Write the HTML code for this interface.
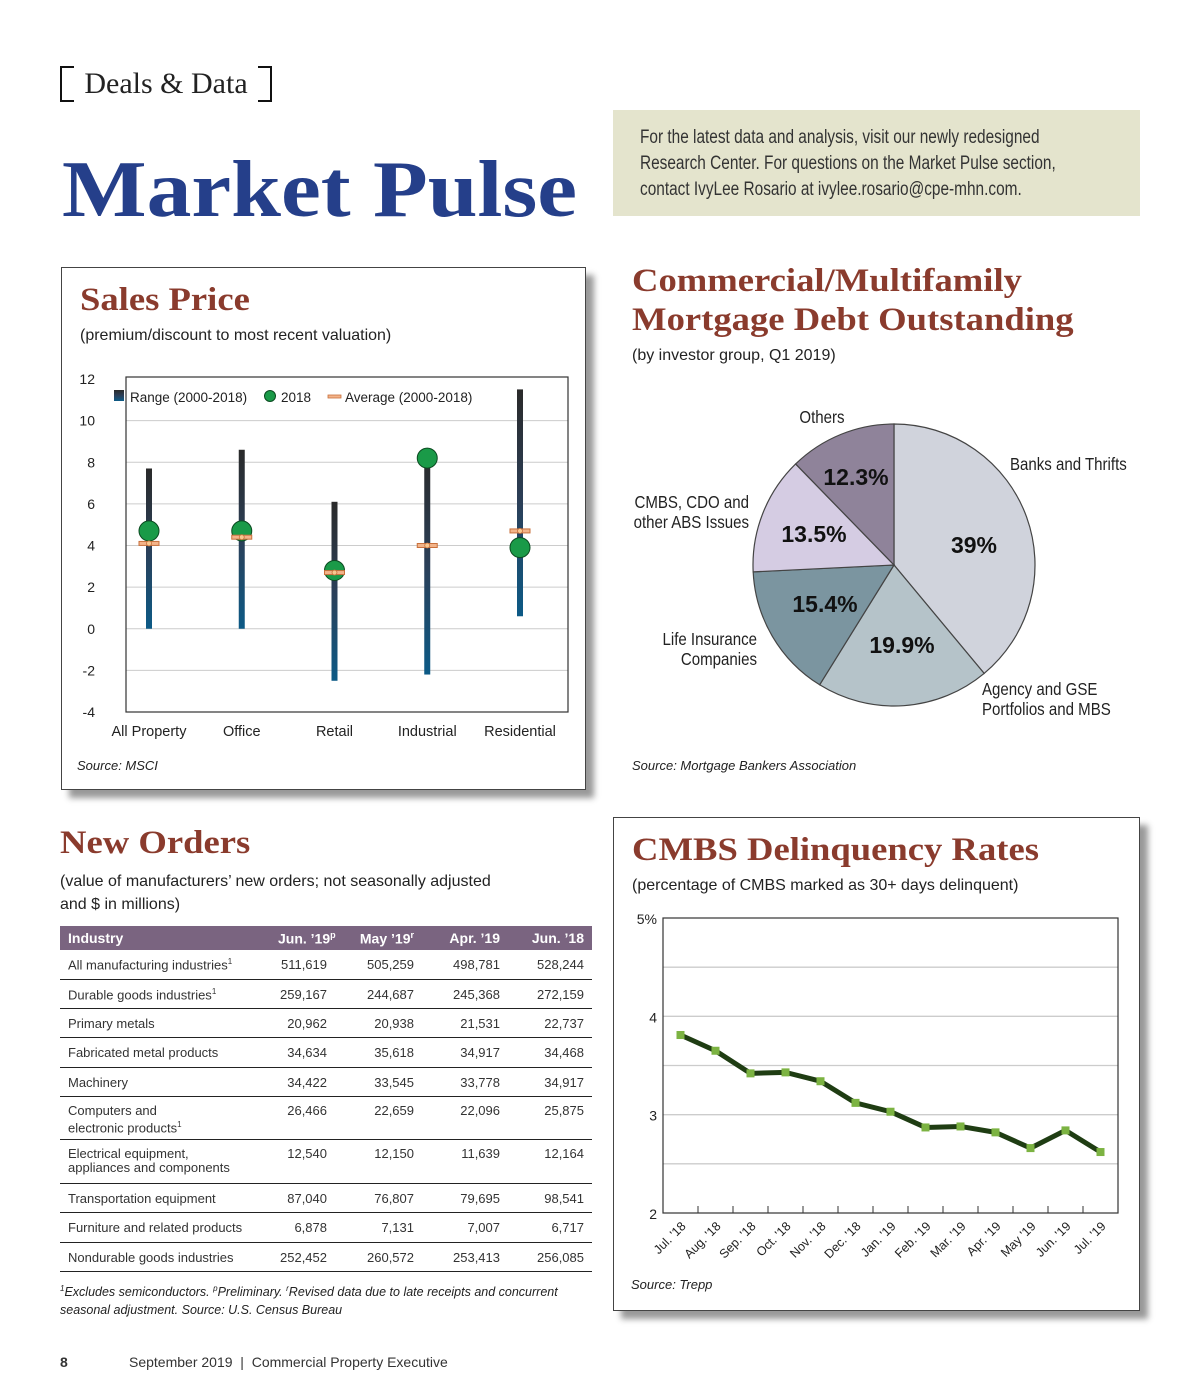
<!DOCTYPE html>
<html><head><meta charset="utf-8"><style>
body{margin:0;background:#fff;}
#page{position:relative;width:1200px;height:1400px;overflow:hidden;font-family:"Liberation Sans",sans-serif;color:#222;}
.abs{position:absolute;}
.head{font-family:"Liberation Serif",serif;font-weight:bold;color:#8a3b2d;transform:scaleX(1.11);transform-origin:left top;white-space:nowrap;}
.src{font-style:italic;font-size:13px;}
table{border-collapse:collapse;font-size:13px;color:#333;table-layout:fixed;}
td,th{padding:0 8px;vertical-align:top;overflow:visible;white-space:nowrap;}
th{background:#7a6480;color:#fff;text-align:right;height:24px;vertical-align:middle;font-size:14px;}
td{border-bottom:1.5px solid #222;text-align:right;padding-top:7px;}
td:first-child,th:first-child{text-align:left;}
tr.s{height:29.3px;} tr.d{height:43.5px;} tr.d td{line-height:14px;}
</style></head><body>
<div id="page">
<div class="abs" style="left:60px;top:66px;width:208px;height:36px;font-family:'Liberation Serif',serif;font-size:30px;line-height:36px;text-align:center;border-left:2px solid #111;border-right:2px solid #111;">Deals &amp; Data
<div class="abs" style="left:0;top:0;width:12px;border-top:2px solid #111"></div><div class="abs" style="left:0;bottom:0;width:12px;border-bottom:2px solid #111"></div><div class="abs" style="right:0;top:0;width:12px;border-top:2px solid #111"></div><div class="abs" style="right:0;bottom:0;width:12px;border-bottom:2px solid #111"></div></div>
<div class="abs" style="left:62px;top:142px;font-family:'Liberation Serif',serif;font-weight:bold;font-size:80px;color:#253f8a;line-height:96px;transform:scaleX(1.12);transform-origin:left top;white-space:nowrap;">Market Pulse</div>
<div class="abs" style="left:613px;top:110px;width:527px;height:106px;background:#e4e4cd;"></div>
<div class="abs" style="left:640px;top:125px;font-size:19px;line-height:26px;color:#333;white-space:nowrap;transform:scaleX(0.81);transform-origin:left top;">For the latest data and analysis, visit our newly redesigned<br>Research Center. For questions on the Market Pulse section,<br>contact IvyLee Rosario at ivylee.rosario@cpe-mhn.com.</div>

<!-- Sales price -->
<div class="abs" style="left:61px;top:267px;width:523px;height:521px;border:1.5px solid #444;box-shadow:8px 8px 6px #999;background:#fff;"></div>
<div class="abs head" style="left:80px;top:282px;font-size:33px;">Sales Price</div>
<div class="abs" style="left:80px;top:327px;font-size:16px;">(premium/discount to most recent valuation)</div>
<div class="abs src" style="left:77px;top:758px;">Source: MSCI</div>
<svg class="abs" id="sp" style="left:0;top:0" width="600" height="760">
<defs><linearGradient id="rg" x1="0" y1="0" x2="0" y2="1"><stop offset="0" stop-color="#2a2a2a"/><stop offset="0.5" stop-color="#2b3f58"/><stop offset="1" stop-color="#0c5a86"/></linearGradient></defs>
</svg>

<!-- Pie -->
<div class="abs head" style="left:632px;top:262px;font-size:33px;line-height:39px;">Commercial/Multifamily<br>Mortgage Debt Outstanding</div>
<div class="abs" style="left:632px;top:347px;font-size:16px;">(by investor group, Q1 2019)</div>
<svg class="abs" id="pie" style="left:600px;top:390px" width="600" height="340"></svg>
<div class="abs src" style="left:632px;top:758px;">Source: Mortgage Bankers Association</div>

<!-- New orders -->
<div class="abs head" style="left:60px;top:825px;font-size:33px;">New Orders</div>
<div class="abs" style="left:60px;top:870px;font-size:16px;line-height:23px;">(value of manufacturers’ new orders; not seasonally adjusted<br>and $ in millions)</div>
<table class="abs" style="left:60px;top:926px;width:532px;">
<colgroup><col style="width:210px"><col style="width:65px"><col style="width:87px"><col style="width:86px"><col style="width:84px"></colgroup>
<tr><th>Industry</th><th>Jun. ’19<sup style="font-size:9px">p</sup></th><th>May ’19<sup style="font-size:9px">r</sup></th><th>Apr. ’19</th><th>Jun. ’18</th></tr>
<tr class="s"><td>All manufacturing industries<sup style="font-size:8px">1</sup></td><td>511,619</td><td>505,259</td><td>498,781</td><td>528,244</td></tr>
<tr class="s"><td>Durable goods industries<sup style="font-size:8px">1</sup></td><td>259,167</td><td>244,687</td><td>245,368</td><td>272,159</td></tr>
<tr class="s"><td>Primary metals</td><td>20,962</td><td>20,938</td><td>21,531</td><td>22,737</td></tr>
<tr class="s"><td>Fabricated metal products</td><td>34,634</td><td>35,618</td><td>34,917</td><td>34,468</td></tr>
<tr class="s"><td>Machinery</td><td>34,422</td><td>33,545</td><td>33,778</td><td>34,917</td></tr>
<tr class="d"><td>Computers and<br>electronic products<sup style="font-size:8px">1</sup></td><td>26,466</td><td>22,659</td><td>22,096</td><td>25,875</td></tr>
<tr class="d"><td>Electrical equipment,<br>appliances and components</td><td>12,540</td><td>12,150</td><td>11,639</td><td>12,164</td></tr>
<tr class="s"><td>Transportation equipment</td><td>87,040</td><td>76,807</td><td>79,695</td><td>98,541</td></tr>
<tr class="s"><td>Furniture and related products</td><td>6,878</td><td>7,131</td><td>7,007</td><td>6,717</td></tr>
<tr class="s"><td>Nondurable goods industries</td><td>252,452</td><td>260,572</td><td>253,413</td><td>256,085</td></tr>
</table>
<div class="abs src" style="left:60px;top:1280px;font-size:12.5px;line-height:18px;"><sup style="font-size:8px">1</sup>Excludes semiconductors. <sup style="font-size:8px">p</sup>Preliminary. <sup style="font-size:8px">r</sup>Revised data due to late receipts and concurrent<br>seasonal adjustment. Source: U.S. Census Bureau</div>

<!-- CMBS -->
<div class="abs" style="left:613px;top:817px;width:525px;height:492px;border:1.5px solid #444;box-shadow:8px 8px 6px #999;background:#fff;"></div>
<div class="abs head" style="left:632px;top:832px;font-size:33px;">CMBS Delinquency Rates</div>
<div class="abs" style="left:632px;top:877px;font-size:16px;">(percentage of CMBS marked as 30+ days delinquent)</div>
<svg class="abs" id="cm" style="left:0;top:0" width="1200" height="1300"></svg>
<div class="abs src" style="left:631px;top:1277px;">Source: Trepp</div>

<div class="abs" style="left:60px;top:1354px;font-size:14px;color:#333;"><b style="display:inline-block;width:69px">8</b>September 2019 &nbsp;|&nbsp; Commercial Property Executive</div>
</div>
<script>
const NS='http://www.w3.org/2000/svg';
function mk(p,t,a,txt){const e=document.createElementNS(NS,t);for(const k in a)e.setAttribute(k,a[k]);if(txt!==undefined)e.textContent=txt;p.appendChild(e);return e;}

// ---- Sales price data ----
const spCategories=['All Property','Office','Retail','Industrial','Residential'];
const spRangeLow=[0,0,-2.5,-2.2,0.6];
const spRangeHigh=[7.7,8.6,6.1,8.3,11.5];
const sp2018=[4.7,4.7,2.8,8.2,3.9];
const spAverage=[4.1,4.4,2.7,4.0,4.7];
const spTicks=[12,10,8,6,4,2,0,-2,-4];
(function(){
const s=document.getElementById('sp');
const L=126,R=568,T=379,B=712,min=-4,max=12;
const y=v=>B-(v-min)/(max-min)*(B-T);
const xs=i=>L+23+i*92.75;
spTicks.forEach(t=>{
 if(t!==12&&t!==-4){const g=mk(s,'line',{x1:L,x2:R,y1:y(t),y2:y(t),stroke:'#ccc','stroke-width':1});}
 const l=mk(s,'text',{x:95,y:y(t)+5,'text-anchor':'end','font-size':14,fill:'#222'},t);
 
});
const fr=mk(s,'rect',{x:L,y:T-2,width:R-L,height:B-T+2,fill:'none',stroke:'#333','stroke-width':1.2});

spCategories.forEach((c,i)=>{
 const x=xs(i);
 const b=mk(s,'rect',{x:x-3,y:y(spRangeHigh[i]),width:6,height:y(spRangeLow[i])-y(spRangeHigh[i]),fill:'url(#rg)'});
 
 const p=mk(s,'circle',{cx:x,cy:y(sp2018[i]),r:10,fill:'#1a9a48',stroke:'#0b4a20','stroke-width':1});
 
 const a=mk(s,'rect',{x:x-10,y:y(spAverage[i])-2,width:20,height:4,fill:'#f3b48a',stroke:'#c8703c','stroke-width':1});
 
 const a2=mk(s,'circle',{cx:x,cy:y(spAverage[i]),r:2.5,fill:'#f8c890',stroke:'#c8703c','stroke-width':0.8});
 
 const t=mk(s,'text',{x:x,y:736,'text-anchor':'middle','font-size':14.5,fill:'#222'},c);
 
});
const lg=mk(s,'g',{});
mk(lg,'rect',{x:114,y:390,width:10,height:11,fill:'url(#rg)'});
mk(lg,'text',{x:130,y:402,'font-size':13.5,fill:'#222'},'Range (2000-2018)');
mk(lg,'circle',{cx:270,cy:396,r:5.5,fill:'#1a9a48',stroke:'#0b4a20'});
mk(lg,'text',{x:281,y:402,'font-size':13.5,fill:'#222'},'2018');
mk(lg,'rect',{x:328,y:395,width:13,height:3,fill:'#f3b48a',stroke:'#c8703c','stroke-width':0.8});
mk(lg,'text',{x:345,y:402,'font-size':13.5,fill:'#222'},'Average (2000-2018)');
})();

// ---- Pie data ----
const pieLabels=['Banks and Thrifts','Agency and GSE Portfolios and MBS','Life Insurance Companies','CMBS, CDO and other ABS Issues','Others'];
const pieValues=[39,19.9,15.4,13.5,12.3];
const pieColors=['#d0d3dc','#b5c3c9','#7b95a0','#d5cce3','#8f839a'];
(function(){
const s=document.getElementById('pie');
const cx=294,cy=175,r=141;
const tot=pieValues.reduce((a,b)=>a+b,0);
let a0=-Math.PI/2;
const lbl=[[80,-20],[8,80],[-69,39],[-80,-31],[-38,-88]];
pieValues.forEach((v,i)=>{
 const a1=a0+v/tot*2*Math.PI;
 const p=`M${cx},${cy}L${cx+r*Math.cos(a0)},${cy+r*Math.sin(a0)}A${r},${r} 0 ${a1-a0>Math.PI?1:0} 1 ${cx+r*Math.cos(a1)},${cy+r*Math.sin(a1)}Z`;
 const e=mk(s,'path',{d:p,fill:pieColors[i],stroke:'#444','stroke-width':1.2});
 
 a0=a1;
});
pieValues.forEach((v,i)=>{
 const t=mk(s,'text',{x:cx+lbl[i][0],y:cy+lbl[i][1]+8,'text-anchor':'middle','font-size':23,'font-weight':'bold',fill:'#111'},v+'%');
 
});
const outs=[[410,80,'start',['Banks and Thrifts']],[382,305,'start',['Agency and GSE','Portfolios and MBS']],[157,255,'end',['Life Insurance','Companies']],[149,118,'end',['CMBS, CDO and','other ABS Issues']],[222,33,'middle',['Others']]];
outs.forEach(o=>{o[3].forEach((ln,j)=>{const t=mk(s,'text',{x:0,y:0,'text-anchor':o[2],'font-size':17.5,fill:'#222',transform:`translate(${o[0]},${o[1]+j*20}) scale(0.86,1)`},ln);
 });});
})();

// ---- CMBS data ----
const cmMonths=["Jul. '18","Aug. '18","Sep. '18","Oct. '18","Nov. '18","Dec. '18","Jan. '19","Feb. '19","Mar. '19","Apr. '19","May '19","Jun. '19","Jul. '19"];
const cmRates=[3.81,3.65,3.42,3.43,3.34,3.12,3.03,2.87,2.88,2.82,2.66,2.84,2.62];
const cmTicks=['5%','4','3','2'];
(function(){
const s=document.getElementById('cm');
const L=663,R=1118,T=918,B=1213,min=2,max=5;
const y=v=>B-(v-min)/(max-min)*(B-T);
const step=(R-L)/cmMonths.length;
const x=i=>L+step*(i+0.5);
for(let v=2.5;v<5;v+=0.5){const g=mk(s,'line',{x1:L,x2:R,y1:y(v),y2:y(v),stroke:'#ccc','stroke-width':1.3});}
cmTicks.forEach((t,i)=>{const l=mk(s,'text',{x:657,y:y(5-i)+6,'text-anchor':'end','font-size':14,fill:'#222'},t);});
const fr=mk(s,'rect',{x:L,y:T,width:R-L,height:B-T,fill:'none',stroke:'#333','stroke-width':1.2});

for(let i=1;i<cmMonths.length;i++){mk(s,'line',{x1:L+step*i,x2:L+step*i,y1:B,y2:B-7,stroke:'#333','stroke-width':1});}
const pl=mk(s,'polyline',{points:cmRates.map((v,i)=>x(i)+','+y(v)).join(' '),fill:'none',stroke:'#1f3d13','stroke-width':5,'stroke-linejoin':'round'});

cmRates.forEach((v,i)=>{const m=mk(s,'rect',{x:x(i)-4,y:y(v)-4,width:8,height:8,fill:'#7cb342'});
 const t=mk(s,'text',{x:x(i)+6,y:B+14,'text-anchor':'end','font-size':12.5,fill:'#222',transform:`rotate(-45 ${x(i)+6} ${B+14})`},cmMonths[i]);
 });
})();
</script>
</body></html>
